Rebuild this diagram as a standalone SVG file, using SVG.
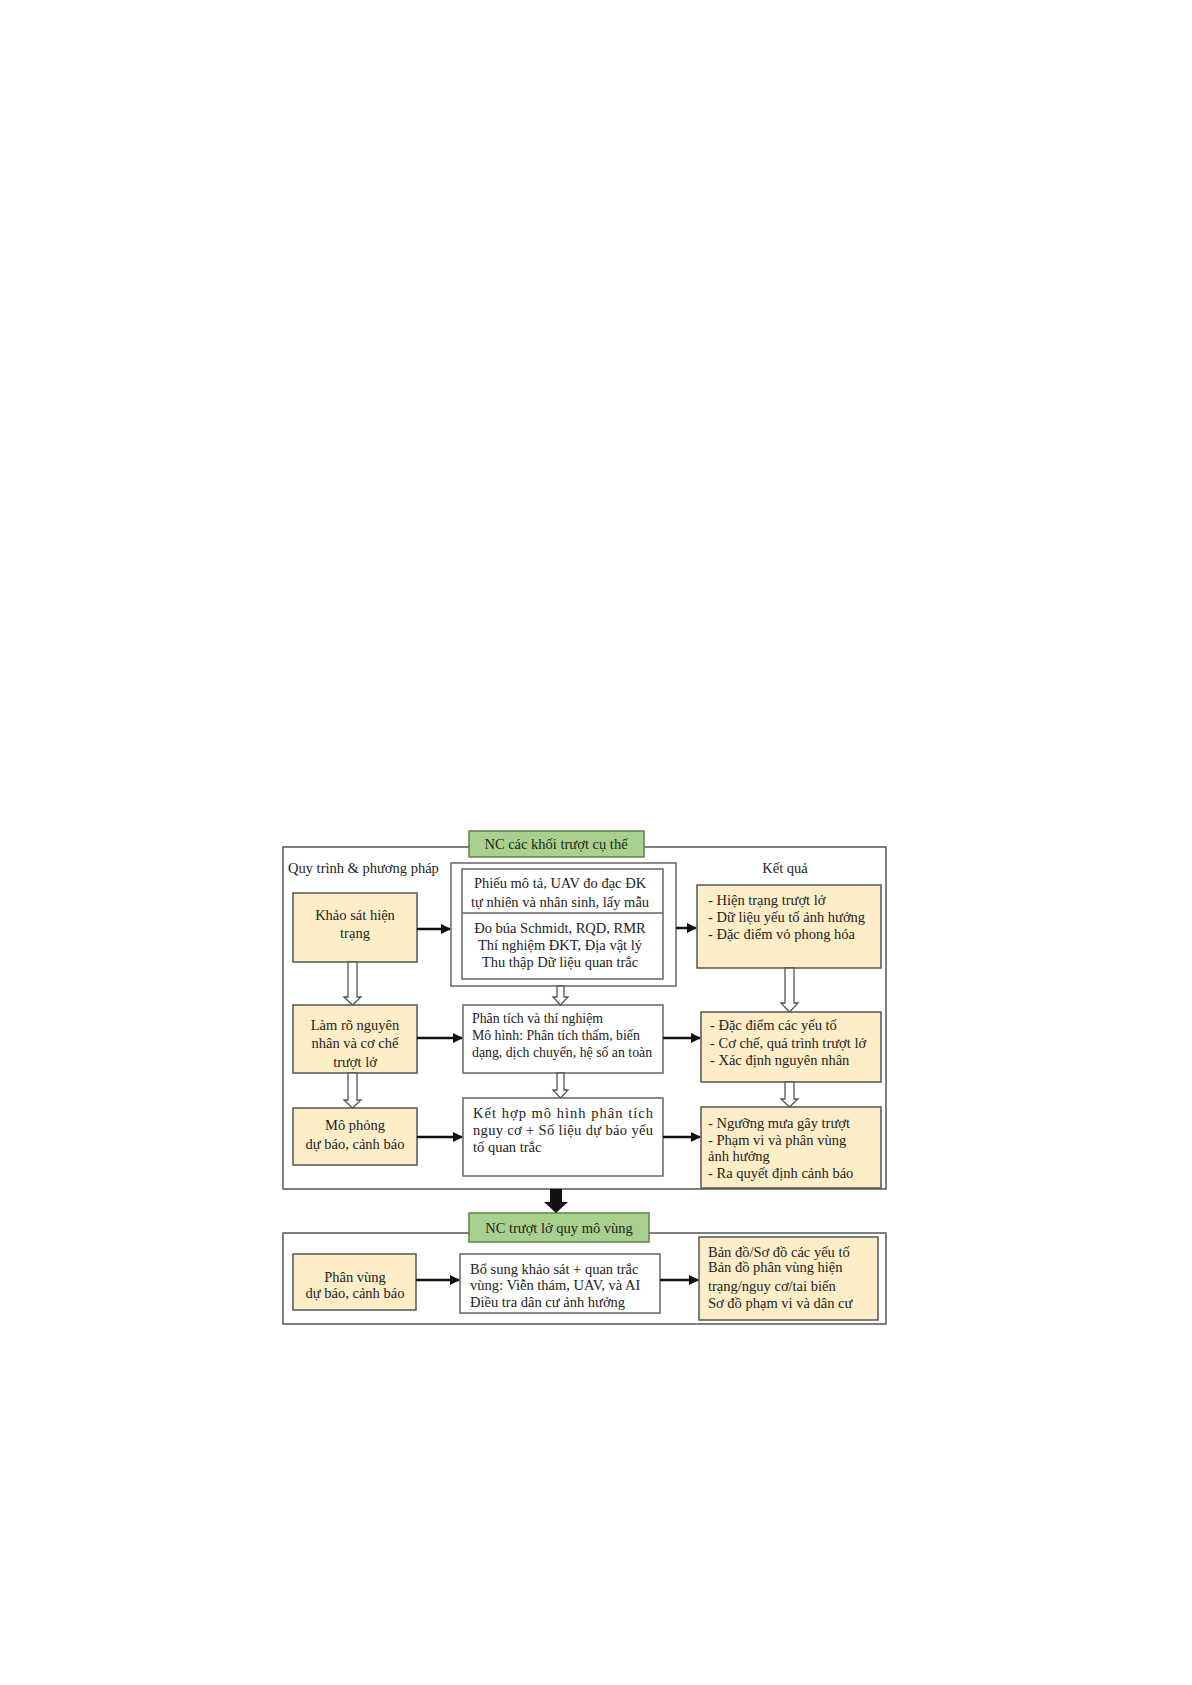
<svg xmlns="http://www.w3.org/2000/svg" width="1192" height="1685" viewBox="0 0 1192 1685">
<style>
  text { font-family: "Liberation Serif", "Times New Roman", serif; fill: #222; font-size: 14.5px; }
  .frame { fill: none; stroke: #555; stroke-width: 1.5; }
  .box { fill: #ffffff; stroke: #666; stroke-width: 1.5; }
  .beige { fill: #fdeec8; stroke: #555; stroke-width: 1.5; }
  .green { fill: #a9d18e; stroke: #5f7f4f; stroke-width: 1.5; }
  .c { text-anchor: middle; }
  .sm { font-size: 13.8px; }
  .arr { stroke: #111; stroke-width: 2.5; fill: none; }
  .hollow { fill: #fff; stroke: #555; stroke-width: 1.3; }
</style>
<defs>
  <marker id="ah" viewBox="0 0 10 10" refX="9" refY="5" markerWidth="4" markerHeight="4" orient="auto">
    <path d="M0,0 L10,5 L0,10 z" fill="#111"/>
  </marker>
</defs>
<rect width="1192" height="1685" fill="#fff"/>

<g id="frame1">
  <rect class="frame" x="283" y="847" width="603" height="342"/>
  <text x="288" y="873">Quy trình &amp; phương pháp</text>
  <text class="c" x="785" y="873">Kết quả</text>
</g>
<g id="title1">
  <rect class="green" x="469" y="831" width="175" height="26"/>
  <text class="c" x="556" y="849">NC các khối trượt cụ thể</text>
</g>

<g id="khaosat">
  <rect class="beige" x="293" y="893" width="124" height="69"/>
  <text class="c" x="355" y="920">Khảo sát hiện</text>
  <text class="c" x="355" y="938">trạng</text>
</g>
<g id="phieu">
  <rect class="box" x="451" y="863" width="225" height="123"/>
  <rect class="box" x="462" y="869" width="201" height="110"/>
  <line x1="462" y1="913" x2="663" y2="913" stroke="#666" stroke-width="1.5"/>
  <text class="c" x="560" y="888">Phiếu mô tả, UAV đo đạc ĐK</text>
  <text class="c" x="560" y="907">tự nhiên và nhân sinh, lấy mẫu</text>
  <text class="c" x="560" y="933">Đo búa Schmidt, RQD, RMR</text>
  <text class="c" x="560" y="950">Thí nghiệm ĐKT, Địa vật lý</text>
  <text class="c" x="560" y="967">Thu thập Dữ liệu quan trắc</text>
</g>
<g id="ketqua1">
  <rect class="beige" x="697" y="885" width="184" height="83"/>
  <text x="708" y="905">- Hiện trạng trượt lở</text>
  <text x="708" y="922">- Dữ liệu yếu tố ảnh hưởng</text>
  <text x="708" y="939">- Đặc điểm vỏ phong hóa</text>
</g>

<g id="lamro">
  <rect class="beige" x="293" y="1005" width="124" height="68"/>
  <text class="c" x="355" y="1030">Làm rõ nguyên</text>
  <text class="c" x="355" y="1048">nhân và cơ chế</text>
  <text class="c" x="355" y="1067">trượt lở</text>
</g>
<g id="phantich">
  <rect class="box" x="463" y="1005" width="200" height="68"/>
  <text class="sm" x="472" y="1023">Phân tích và thí nghiệm</text>
  <text class="sm" x="472" y="1040">Mô hình: Phân tích thấm, biến</text>
  <text class="sm" x="472" y="1057">dạng, dịch chuyển, hệ số an toàn</text>
</g>
<g id="ketqua2">
  <rect class="beige" x="701" y="1012" width="180" height="70"/>
  <text x="710" y="1030">- Đặc điểm các yếu tố</text>
  <text x="710" y="1048">- Cơ chế, quá trình trượt lở</text>
  <text x="710" y="1065">- Xác định nguyên nhân</text>
</g>

<g id="mophong">
  <rect class="beige" x="293" y="1108" width="124" height="57"/>
  <text class="c" x="355" y="1130">Mô phỏng</text>
  <text class="c" x="355" y="1149">dự báo, cảnh báo</text>
</g>
<g id="kethop">
  <rect class="box" x="463" y="1098" width="200" height="78"/>
  <text x="473" y="1118" textLength="180" lengthAdjust="spacing">Kết hợp mô hình phân tích</text>
  <text x="473" y="1135" textLength="180" lengthAdjust="spacing">nguy cơ + Số liệu dự báo yếu</text>
  <text x="473" y="1152">tố quan trắc</text>
</g>
<g id="ketqua3">
  <rect class="beige" x="701" y="1107" width="180" height="81"/>
  <text x="708" y="1128">- Ngưỡng mưa gây trượt</text>
  <text x="708" y="1145">- Phạm vi và phân vùng</text>
  <text x="708" y="1161">ảnh hưởng</text>
  <text x="708" y="1178">- Ra quyết định cảnh báo</text>
</g>

<g id="frame2">
  <rect class="frame" x="283" y="1233" width="603" height="91"/>
</g>
<g id="title2">
  <rect class="green" x="469" y="1213" width="180" height="29"/>
  <text class="c" x="559" y="1233">NC trượt lở quy mô vùng</text>
</g>
<g id="phanvung">
  <rect class="beige" x="293" y="1254" width="123" height="56"/>
  <text class="c" x="355" y="1282">Phân vùng</text>
  <text class="c" x="355" y="1298">dự báo, cảnh báo</text>
</g>
<g id="bosung">
  <rect class="box" x="460" y="1254" width="200" height="59"/>
  <text x="470" y="1274">Bổ sung khảo sát + quan trắc</text>
  <text x="470" y="1290">vùng: Viễn thám, UAV, và AI</text>
  <text x="470" y="1307">Điều tra dân cư ảnh hưởng</text>
</g>
<g id="ketqua4">
  <rect class="beige" x="699" y="1237" width="179" height="83"/>
  <text x="708" y="1257">Bản đồ/Sơ đồ các yếu tố</text>
  <text x="708" y="1272">Bản đồ phân vùng hiện</text>
  <text x="708" y="1291">trạng/nguy cơ/tai biến</text>
  <text x="708" y="1308">Sơ đồ phạm vi và dân cư</text>
</g>

<g id="connectors">
  <line class="arr" x1="417" y1="929" x2="450" y2="929" marker-end="url(#ah)"/>
  <line class="arr" x1="676" y1="928" x2="696" y2="928" marker-end="url(#ah)"/>
  <line class="arr" x1="417" y1="1038" x2="462" y2="1038" marker-end="url(#ah)"/>
  <line class="arr" x1="663" y1="1038" x2="700" y2="1038" marker-end="url(#ah)"/>
  <line class="arr" x1="417" y1="1137" x2="462" y2="1137" marker-end="url(#ah)"/>
  <line class="arr" x1="663" y1="1137" x2="700" y2="1137" marker-end="url(#ah)"/>
  <line class="arr" x1="416" y1="1280" x2="459" y2="1280" marker-end="url(#ah)"/>
  <line class="arr" x1="660" y1="1280" x2="698" y2="1280" marker-end="url(#ah)"/>
  <path class="hollow" d="M348,962 L357,962 L357,997 L361,997 L352.5,1005 L344,997 L348,997 Z"/>
  <path class="hollow" d="M557,986 L564,986 L564,997 L568,997 L560.5,1005 L553,997 L557,997 Z"/>
  <path class="hollow" d="M785,968 L794,968 L794,1003 L798,1003 L789.5,1012 L781,1003 L785,1003 Z"/>
  <path class="hollow" d="M348,1073 L357,1073 L357,1100 L361,1100 L352.5,1108 L344,1100 L348,1100 Z"/>
  <path class="hollow" d="M557,1073 L564,1073 L564,1090 L568,1090 L560.5,1098 L553,1090 L557,1090 Z"/>
  <path class="hollow" d="M785,1082 L794,1082 L794,1099 L798,1099 L789.5,1107 L781,1099 L785,1099 Z"/>
  <path d="M550,1189 L562,1189 L562,1202 L568,1202 L556,1213 L544,1202 L550,1202 Z" fill="#111"/>
</g>
</svg>
